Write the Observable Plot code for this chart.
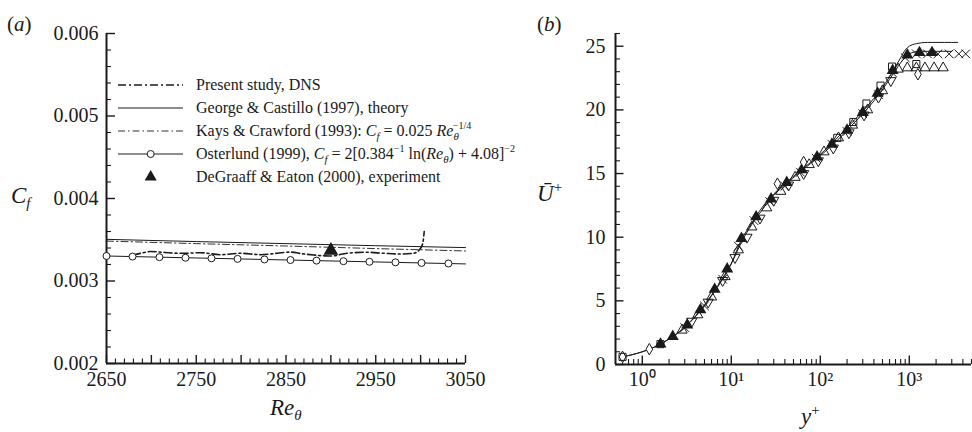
<!DOCTYPE html>
<html><head><meta charset="utf-8">
<script src="https://cdn.jsdelivr.net/npm/d3@7"></script>
<script src="https://cdn.jsdelivr.net/npm/@observablehq/plot@0.6"></script>
<style>
html,body{margin:0;padding:0;background:#fff;}
#wrap{position:relative;width:972px;height:432px;}
#wrap svg{position:absolute;top:0;}
</style></head><body><div id="wrap"></div>
<script>
// ---------- Panel (a) data ----------
const reTickLabels = [2650, 2750, 2850, 2950, 3050];
const cfTickLabels = [0.002, 0.003, 0.004, 0.005, 0.006];

const dnsRe = [2679, 2690, 2699, 2710, 2722, 2736, 2755, 2777, 2799, 2822, 2840, 2855, 2868, 2881, 2893, 2900, 2918, 2940, 2959, 2978, 2992, 3000, 3003, 3004];
const dnsCf = [0.003311, 0.003340, 0.003357, 0.003350, 0.003340, 0.003336, 0.003343, 0.003319, 0.003336, 0.003319, 0.003336, 0.003350, 0.003330, 0.003315, 0.003305, 0.003303, 0.003336, 0.003348, 0.003336, 0.003327, 0.003336, 0.003396, 0.003497, 0.003600];

const georgeRe = [2650, 2750, 2850, 2950, 3050];
const georgeCf = [0.003505, 0.003478, 0.003453, 0.003428, 0.003405];

const kaysRe = [2650, 2750, 2850, 2950, 3050];
const kaysCf = [0.003484, 0.003453, 0.003424, 0.003393, 0.003364];

const osterRe = [2650, 2750, 2850, 2950, 3050];
const osterCf = [0.003303, 0.003279, 0.003255, 0.003231, 0.003207];

const osterMarkRe = [2650, 2679, 2709, 2738, 2767, 2796, 2826, 2855, 2884, 2914, 2943, 2972, 3001, 3031];
const osterMarkCf = [0.003303, 0.003296, 0.003289, 0.003282, 0.003275, 0.003268, 0.003261, 0.003254, 0.003247, 0.003240, 0.003233, 0.003226, 0.003219, 0.003212];

const expRe = [2900];
const expCf = [0.003370];

// ---------- Panel (b) data ----------
const yPlusTickLabels = [1, 10, 100, 1000];
const uTickLabels = [0, 5, 10, 15, 20, 25];

const lineAy = [0.6, 1, 1.5, 2, 3, 4, 5, 6, 8, 10, 13, 17, 22, 30, 40, 60, 100, 150, 200, 300, 400, 500, 600, 700, 800, 900, 1000, 1200, 1600, 2500, 3500];
const lineAu = [0.6, 1.0, 1.5, 2.0, 2.95, 3.85, 4.7, 5.45, 6.8, 7.95, 9.8, 11.1, 12.3, 13.4, 14.2, 15.25, 16.5, 17.7, 18.6, 19.9, 20.9, 21.8, 22.6, 23.4, 24.1, 24.7, 25.0, 25.2, 25.3, 25.3, 25.3];

const lineBy = [0.6, 1, 1.5, 2, 3, 4, 5, 6, 8, 10, 13, 17, 22, 30, 40, 60, 100, 150, 200, 300, 400, 500, 600, 700, 800, 1000, 1300, 2000, 3000];
const lineBu = [0.6, 1.0, 1.5, 2.0, 2.9, 3.8, 4.6, 5.4, 6.7, 7.9, 9.6, 11.0, 12.1, 13.3, 14.1, 15.15, 16.4, 17.5, 18.4, 19.7, 20.7, 21.6, 22.4, 23.1, 23.7, 24.4, 24.6, 24.6, 24.6];

const crossY = [3, 5, 8, 12, 18, 27, 40, 60, 90, 135, 200, 300, 450, 650, 900, 1200, 1600, 2100, 2800, 3600, 4300];
const crossU = [2.9, 4.6, 6.7, 9.3, 11.3, 12.8, 14.0, 15.1, 16.2, 17.3, 18.3, 19.7, 21.2, 22.9, 24.1, 24.4, 24.4, 24.4, 24.4, 24.4, 24.4];

const filledTriY = [1.6, 2.2, 3.2, 4.5, 6.5, 9, 13, 19, 28, 42, 62, 92, 135, 200, 300, 440, 650, 950, 1300, 1800];
const filledTriU = [1.6, 2.2, 3.1, 4.3, 5.9, 7.5, 9.9, 11.6, 13.0, 14.3, 15.3, 16.3, 17.3, 18.4, 19.8, 21.3, 23.1, 24.3, 24.5, 24.5];

const openTriY = [2.8, 4.2, 6, 8.5, 12, 17, 25, 36, 52, 75, 110, 160, 230, 340, 500, 750, 950, 1200, 1500, 1900, 2400];
const openTriU = [2.7, 3.9, 5.3, 6.9, 9.0, 10.8, 12.3, 13.6, 14.7, 15.7, 16.7, 17.8, 18.8, 20.0, 21.5, 23.2, 23.3, 23.3, 23.3, 23.3, 23.3];

const downTriY = [3.6, 5.5, 8, 11, 15, 21, 30, 44, 65, 95, 140, 210, 310, 450, 620];
const downTriU = [3.4, 4.9, 6.6, 8.4, 10.0, 11.5, 12.9, 14.1, 15.0, 16.0, 17.0, 18.2, 19.6, 21.0, 22.3];

const diamondY = [0.6, 1.2, 33, 65, 1250];
const diamondU = [0.6, 1.2, 14.2, 15.9, 22.8];

const squareY = [0.6, 1.6, 155, 235, 330, 475, 640, 1200];
const squareU = [0.6, 1.6, 17.8, 19.05, 20.5, 21.9, 23.4, 23.6];

// ---------- helpers ----------
const ink = "#1a1a1a";
const font = '"Liberation Serif", "Times New Roman", serif';
const zip = (xs, ys) => xs.map((x, i) => ({x, y: ys[i]}));

// tick positions (axis decoration)
const reMajor = d3.range(2650, 3051, 50);
const reMinor = d3.range(2650, 3051, 10).filter(v => (v - 2650) % 50 !== 0);
const cfMajor = cfTickLabels;
const cfMinor = d3.range(20, 61, 2).filter(v => v % 10 !== 0).map(v => v / 10000);
const yPlusMinor = [0.6, 0.7, 0.8, 0.9].concat(...[1, 10, 100, 1000].map(d => [2,3,4,5,6,7,8,9].map(k => k * d))).filter(v => v <= 5000);
const uMinor = d3.range(0, 27).filter(v => v % 5 !== 0);

// ---------- Panel (a) ----------
const LW = 490, LH = 432, LmL = 106, LmR = 25, LmT = 33, LmB = 69;
const LpW = LW - LmL - LmR, LpH = LH - LmT - LmB;
const left = Plot.plot({
  width: LW, height: LH, marginLeft: LmL, marginRight: LmR, marginTop: LmT, marginBottom: LmB,
  style: {fontFamily: font, fontSize: "20px", background: "transparent", overflow: "visible", color: ink},
  x: {domain: [2650, 3050], label: null},
  y: {domain: [0.002, 0.006], label: null},
  marks: [
    Plot.axisX({ticks: reTickLabels, tickSize: 0, tickPadding: 8, tickFormat: d => String(d), label: null}),
    Plot.axisY({ticks: cfTickLabels, tickSize: 0, tickPadding: 8, tickFormat: d => d.toFixed(3), label: null}),
    Plot.tickX(reMajor, {x: d => d, insetTop: LpH - 8, stroke: ink, strokeWidth: 1.4}),
    Plot.tickX(reMinor, {x: d => d, insetTop: LpH - 4.5, stroke: ink, strokeWidth: 1.1}),
    Plot.tickY(cfMajor, {y: d => d, insetRight: LpW - 9, stroke: ink, strokeWidth: 1.4}),
    Plot.tickY(cfMinor, {y: d => d, insetRight: LpW - 5, stroke: ink, strokeWidth: 1.1}),
    Plot.ruleX([2650], {stroke: ink, strokeWidth: 2}),
    Plot.ruleY([0.002], {stroke: ink, strokeWidth: 2}),
    Plot.line(zip(georgeRe, georgeCf), {x: "x", y: "y", stroke: ink, strokeWidth: 1}),
    Plot.line(zip(kaysRe, kaysCf), {x: "x", y: "y", stroke: ink, strokeWidth: 0.9, strokeDasharray: "7,3,1.5,3"}),
    Plot.line(zip(osterRe, osterCf), {x: "x", y: "y", stroke: ink, strokeWidth: 1}),
    Plot.line(zip(dnsRe, dnsCf), {x: "x", y: "y", stroke: ink, strokeWidth: 1.6, strokeDasharray: "8,3,2,3", curve: "monotone-x"}),
    Plot.dot(zip(osterMarkRe, osterMarkCf), {x: "x", y: "y", r: 3.5, fill: "white", stroke: ink, strokeWidth: 1}),
    Plot.dot(zip(expRe, expCf), {x: "x", y: "y", symbol: "triangle", r: 4.5, fill: ink, stroke: ink})
  ]
});

// ---------- Panel (b) ----------
const RW = 482, RH = 432, RmL = 125, RmR = 1, RmT = 33, RmB = 68;
const RpW = RW - RmL - RmR, RpH = RH - RmT - RmB;
const sup = {"0": "\u2070", "1": "\u00b9", "2": "\u00b2", "3": "\u00b3"};
const right = Plot.plot({
  width: RW, height: RH, marginLeft: RmL, marginRight: RmR, marginTop: RmT, marginBottom: RmB,
  style: {fontFamily: font, fontSize: "20px", background: "transparent", overflow: "visible", color: ink},
  x: {type: "log", domain: [0.5, 5000], label: null},
  y: {domain: [0, 26], label: null},
  marks: [
    Plot.axisX({ticks: yPlusTickLabels, tickSize: 0, tickPadding: 7, tickFormat: d => "10" + sup[String(Math.round(Math.log10(d)))], label: null}),
    Plot.axisY({ticks: uTickLabels, tickSize: 0, tickPadding: 10, tickFormat: d => String(d), label: null}),
    Plot.tickX(yPlusTickLabels, {x: d => d, insetTop: RpH - 8.5, stroke: ink, strokeWidth: 1.4}),
    Plot.tickX(yPlusMinor, {x: d => d, insetTop: RpH - 5, stroke: ink, strokeWidth: 1.1}),
    Plot.tickY(uTickLabels, {y: d => d, insetRight: RpW - 8.5, stroke: ink, strokeWidth: 1.4}),
    Plot.tickY(uMinor, {y: d => d, insetRight: RpW - 5, stroke: ink, strokeWidth: 1.1}),
    Plot.ruleX([0.5], {stroke: ink, strokeWidth: 2}),
    Plot.ruleY([0], {stroke: ink, strokeWidth: 2}),
    Plot.line(zip(lineAy, lineAu), {x: "x", y: "y", stroke: ink, strokeWidth: 1, curve: "monotone-x"}),
    Plot.line(zip(lineBy, lineBu), {x: "x", y: "y", stroke: ink, strokeWidth: 1, curve: "monotone-x"}),
    Plot.dot(zip(openTriY, openTriU), {x: "x", y: "y", symbol: "triangle", r: 3.8, fill: "none", stroke: ink, strokeWidth: 1}),
    Plot.dot(zip(downTriY, downTriU), {x: "x", y: "y", symbol: "triangle", rotate: 180, r: 3.8, fill: "none", stroke: ink, strokeWidth: 1}),
    Plot.dot(zip(crossY, crossU), {x: "x", y: "y", symbol: "times", r: 4, fill: "none", stroke: ink, strokeWidth: 1}),
    Plot.dot(zip(filledTriY, filledTriU), {x: "x", y: "y", symbol: "triangle", r: 3.5, fill: ink, stroke: ink}),
    Plot.dot(zip(diamondY, diamondU), {x: "x", y: "y", symbol: "diamond", r: 3.5, fill: "white", stroke: ink, strokeWidth: 1}),
    Plot.dot(zip(squareY, squareU), {x: "x", y: "y", symbol: "square", r: 4, fill: "none", stroke: ink, strokeWidth: 1})
  ]
});

right.style.left = "490px";
left.style.left = "0px";
const wrap = document.getElementById("wrap");
wrap.appendChild(right);
wrap.appendChild(left);

// ---------- rich text helper ----------
function rich(sel, x, y, parts, size) {
  const t = sel.append("text").attr("x", x).attr("y", y).attr("text-anchor", "start")
    .attr("font-family", font).attr("font-size", size).attr("fill", ink);
  let shift = 0;
  for (const p of parts) {
    const o = typeof p === "string" ? {t: p} : p;
    const ts = t.append("tspan").text(o.t);
    if (o.it) ts.attr("font-style", "italic");
    if (o.size) ts.attr("font-size", o.size);
    const target = o.base || 0;
    if (target !== shift) { ts.attr("dy", target - shift); shift = target; }
    if (o.dx) ts.attr("dx", o.dx);
  }
  return t;
}

// ---------- Panel (a) legend & labels ----------
const L = d3.select(left);
const lg = L.append("g");
const rows = [85, 108, 131, 154, 177];
const sx0 = 118, sx1 = 183, smid = 150.7;
lg.append("line").attr("x1", sx0).attr("x2", sx1).attr("y1", rows[0]).attr("y2", rows[0]).attr("stroke", ink).attr("stroke-width", 1.6).attr("stroke-dasharray", "8,3,2,3");
lg.append("line").attr("x1", sx0).attr("x2", sx1).attr("y1", rows[1]).attr("y2", rows[1]).attr("stroke", ink).attr("stroke-width", 1);
lg.append("line").attr("x1", sx0).attr("x2", sx1).attr("y1", rows[2]).attr("y2", rows[2]).attr("stroke", ink).attr("stroke-width", 0.9).attr("stroke-dasharray", "7,3,1.5,3");
lg.append("line").attr("x1", sx0).attr("x2", sx1).attr("y1", rows[3]).attr("y2", rows[3]).attr("stroke", ink).attr("stroke-width", 1);
lg.append("circle").attr("cx", smid).attr("cy", rows[3]).attr("r", 3.5).attr("fill", "white").attr("stroke", ink);
lg.append("path").attr("d", d3.symbol(d3.symbolTriangle, Math.PI * 4.5 * 4.5)()).attr("transform", `translate(${smid},${rows[4]})`).attr("fill", ink);

const tx = 196, tb = 5;
rich(lg, tx, rows[0] + tb, ["Present study, DNS"], 16);
rich(lg, tx, rows[1] + tb, ["George & Castillo (1997), theory"], 16);
rich(lg, tx, rows[2] + tb, ["Kays & Crawford (1993): ", {t: "C", it: true}, {t: "f", it: true, size: 11, base: 4}, {t: " = 0.025 ", base: 0}, {t: "Re", it: true}, {t: "\u03b8", it: true, size: 11, base: 4}, {t: "\u22121/4", size: 10, base: -7, dx: -6}], 16);
rich(lg, tx, rows[3] + tb, ["Osterlund (1999), ", {t: "C", it: true}, {t: "f", it: true, size: 11, base: 4}, {t: " = 2[0.384", base: 0}, {t: "\u22121", size: 10, base: -7}, {t: " ln(", base: 0}, {t: "Re", it: true}, {t: "\u03b8", it: true, size: 11, base: 4}, {t: ") + 4.08]", base: 0}, {t: "\u22122", size: 10, base: -7}], 16);
rich(lg, tx, rows[4] + tb, ["DeGraaff & Eaton (2000), experiment"], 16);

rich(L, 7, 31, ["(", {t: "a", it: true}, ")"], 21);
rich(L, 11, 203, [{t: "C", it: true}, {t: "f", it: true, size: 15, base: 5}], 23);
rich(L, 270, 415, [{t: "Re", it: true}, {t: "\u03b8", it: true, size: 15, base: 5}], 23);

// ---------- Panel (b) labels ----------
const R = d3.select(right);
rich(R, 47, 31, ["(", {t: "b", it: true}, ")"], 21);
rich(R, 47, 201, [{t: "\u016a", it: true}, {t: "+", size: 15, base: -9}], 23);
rich(R, 311, 424, [{t: "y", it: true}, {t: "+", size: 15, base: -9}], 23);
</script>
</body></html>
